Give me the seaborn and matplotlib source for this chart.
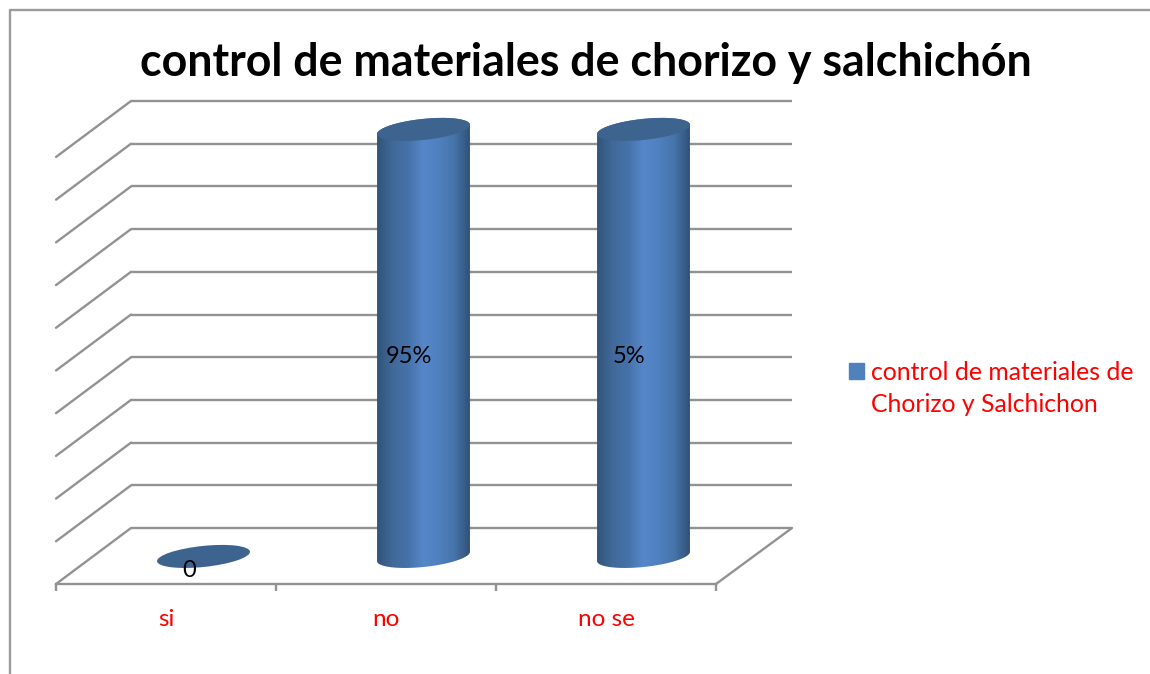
import matplotlib
matplotlib.use("Agg")
import matplotlib.pyplot as plt
import numpy as np
import seaborn as sns
from matplotlib.colors import LinearSegmentedColormap
from matplotlib.lines import Line2D
from matplotlib.patches import Ellipse, Patch
from matplotlib.path import Path
from matplotlib.transforms import IdentityTransform

categories = ["si", "no", "no se"]
heights = [0, 100, 100]
bar_labels = ["0", "95%", "5%"]
grid_values = list(range(0, 101, 10))
title = "control de materiales de chorizo y salchichón"
legend_lines = ["control de materiales de", "Chorizo y Salchichon"]

GRID = "#929292"
CAP = "#3d638f"
DEPTH_X = 0.341
DEPTH_Y = 13.11
CAP_W, CAP_H, CAP_ANGLE = 93.4, 21, 6

sns.set_theme(style="white")
plt.rcParams["font.family"] = ["Lato", "DejaVu Sans"]

fig = plt.figure(figsize=(11.5, 6.74), dpi=100)
ax = fig.add_axes([56 / 1150, 90 / 674, 736 / 1150, 483 / 674])

positions = np.arange(len(categories))
sns.barplot(x=positions + DEPTH_X / 2, y=heights, native_scale=True, width=0.42,
            bottom=-DEPTH_Y / 2 - 0.1, color="#4f7fbe", saturation=1, ax=ax, zorder=3)

ax.set_xlim(-0.5, -0.5 + 736 / 220)
ax.set_ylim(-DEPTH_Y, 100)
ax.autoscale(False)
ax.set_xlabel("")
ax.set_ylabel("")

# walls and floor
xback = -0.5 + DEPTH_X
ax.hlines(grid_values, xback, ax.get_xlim()[1], color=GRID, lw=1.7, zorder=1, clip_on=False)
for v in grid_values:
    ax.plot([-0.5, xback], [v - DEPTH_Y, v], color=GRID, lw=1.7, zorder=1, clip_on=False)
ax.plot([2.5, ax.get_xlim()[1]], [-DEPTH_Y, 0], color=GRID, lw=1.7, zorder=1, clip_on=False)

for s in ["top", "left", "right"]:
    ax.spines[s].set_visible(False)
ax.spines["bottom"].set_bounds(-0.5, 2.5)
ax.spines["bottom"].set_color(GRID)
ax.spines["bottom"].set_linewidth(1.7)
ax.set_yticks([])
ax.set_xticks([-0.5, 0.5, 1.5, 2.5])
ax.set_xticklabels([])
ax.set_xticks(positions, categories, minor=True)
ax.tick_params(axis="x", which="major", bottom=True, direction="out", length=5, width=1.7, color=GRID)
ax.tick_params(axis="x", which="minor", bottom=False, length=0, pad=18, labelsize=17.5, labelcolor="#ff0000")

# cylinders: gradient body clipped to the outline of two caps
shade = LinearSegmentedColormap.from_list(
    "cyl", ["#315478", "#41699a", "#4672aa", "#5587c9", "#4f80bf", "#4674aa", "#315177"])
gradient = np.linspace(0, 1, 256).reshape(1, -1)
a = np.deg2rad(CAP_ANGLE)


def cap_outline(cx, cy, t):
    ex, ey = CAP_W / 2 * np.cos(t), CAP_H / 2 * np.sin(t)
    return np.column_stack([cx + ex * np.cos(a) - ey * np.sin(a), cy + ex * np.sin(a) + ey * np.cos(a)])


fig.canvas.draw()
for bar, label in zip(ax.patches, bar_labels):
    left, w = bar.get_x(), bar.get_width()
    bot, h = bar.get_y(), bar.get_height()
    cx = left + w / 2
    bx, by = ax.transData.transform((cx, bot))
    tx, ty = ax.transData.transform((cx, bot + h))
    if h > 0:
        low = cap_outline(bx, by, np.linspace(np.pi, 2 * np.pi, 60))
        high = cap_outline(tx, ty, np.linspace(0, np.pi, 60))
        outline = Path(np.vstack([low, high, low[:1]]), closed=True)
        im = ax.imshow(gradient, extent=[left, left + w, bot - 5, bot + h + 5], aspect="auto",
                       cmap=shade, zorder=4, clip_on=True)
        im.set_clip_path(outline, IdentityTransform())
    bar.set_visible(False)
    ax.add_patch(Ellipse((tx, ty), CAP_W, CAP_H, angle=CAP_ANGLE, color=CAP, lw=0,
                         transform=IdentityTransform(), zorder=5, clip_on=False))
    ax.annotate(label, (cx, bot + h / 2), xytext=(-10.5, -10), textcoords="offset points",
                ha="center", va="center", fontsize=17, color="black", zorder=6)

fig.text(586 / 1150, 1 - 63 / 674, title, ha="center", va="center",
         fontsize=32.2, fontweight="bold", color="black")

# second legend row has a hidden handle so the swatch stays on the first line
fig.legend(handles=[Patch(color="#4f81bd"), Patch(visible=False)], labels=legend_lines,
           loc="upper left", bbox_to_anchor=(844 / 1150, 1 - 356 / 674), frameon=False, fontsize=17.8,
           labelcolor="#ff0000", handlelength=0.62, handleheight=0.62, handletextpad=0.26,
           borderpad=0.2, borderaxespad=0, labelspacing=0.38)

# chart frame, cut off by the image on the right and at the bottom
fig.add_artist(Line2D([10 / 1150, 10 / 1150, 1], [0, 1 - 10 / 674, 1 - 10 / 674],
                      color="#9b9b9b", lw=1.7, transform=fig.transFigure))

fig.savefig("out.png", dpi=100)
